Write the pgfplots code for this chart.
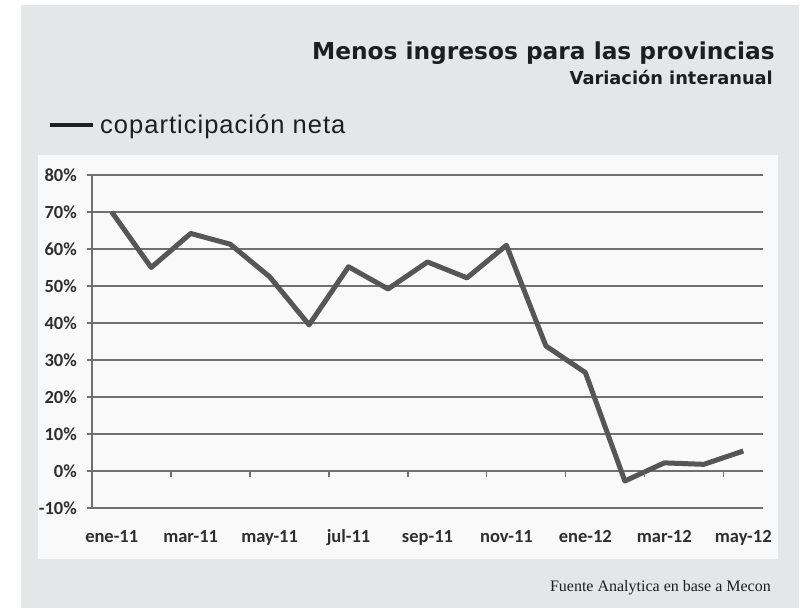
\documentclass[border=0pt]{standalone}
\usepackage{pgfplots}
\pgfplotsset{compat=1.18}
\usepackage{fontspec}
\setmainfont{Liberation Serif}
\newfontfamily\titlefont{DejaVu Sans}
\newfontfamily\legfont{Liberation Sans}[LetterSpace=4]
\newfontfamily\tickfont{Carlito}
\definecolor{panel}{HTML}{E5E6E8}
\definecolor{plotbg}{HTML}{F9F9F9}
\definecolor{gridc}{HTML}{707070}
\definecolor{linec}{HTML}{565656}
\definecolor{txt}{HTML}{1E1E1E}
\definecolor{ticktxt}{HTML}{2E2E2E}
\begin{document}
\begin{tikzpicture}[x=1pt,y=1pt]
\fill[white] (0,0) rectangle (806,608);
\fill[panel] (21,0) rectangle (798.5,603);
\fill[plotbg] (38,49.3) rectangle (777.7,453);
\node[anchor=base east, inner sep=0pt, font=\titlefont\bfseries\fontsize{23.3}{28}\selectfont, text=txt] at (775,548) {Menos ingresos para las provincias};
\node[anchor=base east, inner sep=0pt, font=\titlefont\bfseries\fontsize{17.8}{21}\selectfont, text=txt] at (773,523) {Variación interanual};
\draw[txt, line width=4pt] (50,483) -- (93,483);
\node[anchor=base west, inner sep=0pt, font=\legfont\fontsize{25.5}{30}\selectfont, text=txt] at (100,474.7) {coparticipación neta};
\node[anchor=base east, inner sep=0pt, font=\fontsize{16}{19}\selectfont, text=txt] at (771,17) {Fuente Analytica en base a Mecon};
\begin{axis}[
  at={(92pt,100pt)}, anchor=south west,
  scale only axis, width=671pt, height=333pt,
  xmin=-0.5, xmax=16.5, ymin=-10, ymax=80,
  axis lines*=left,
  axis line style={gridc, line width=1.5pt, -},
  ymajorgrids, grid style={gridc, line width=1.5pt},
  ytick={-10,0,10,20,30,40,50,60,70,80},
  yticklabels={-10\%,0\%,10\%,20\%,30\%,40\%,50\%,60\%,70\%,80\%},
  xtick={0,2,4,6,8,10,12,14,16},
  xticklabels={ene-11,mar-11,may-11,jul-11,sep-11,nov-11,ene-12,mar-12,may-12},
  tick align=outside, major tick length=5pt,
  xtick style={draw=none},
  ytick style={gridc, line width=1.5pt},
  ticklabel style={font=\tickfont\bfseries\fontsize{18.5}{20}\selectfont, text=ticktxt},
  yticklabel style={anchor=east, inner sep=0pt, xshift=-10pt},
  xticklabel style={anchor=base, inner sep=0pt, yshift=-30pt},
  clip=false,
]
\addplot[linec, line width=5pt, line join=round] coordinates {
(0,70) (1,55) (2,64.2) (3,61.3) (4,52.5) (5,39.5) (6,55.2) (7,49.2) (8,56.5)
(9,52.2) (10,61) (11,33.8) (12,26.6) (13,-2.7) (14,2.2) (15,1.8) (16,5.4)
};
\pgfplotsinvokeforeach{1.5,3.5,5.5,7.5,9.5,11.5,13.5,15.5}{
  \draw[gridc, line width=1.5pt] (axis cs:#1,0) -- ([yshift=-6pt]axis cs:#1,0);
}
\end{axis}
\end{tikzpicture}
\end{document}
